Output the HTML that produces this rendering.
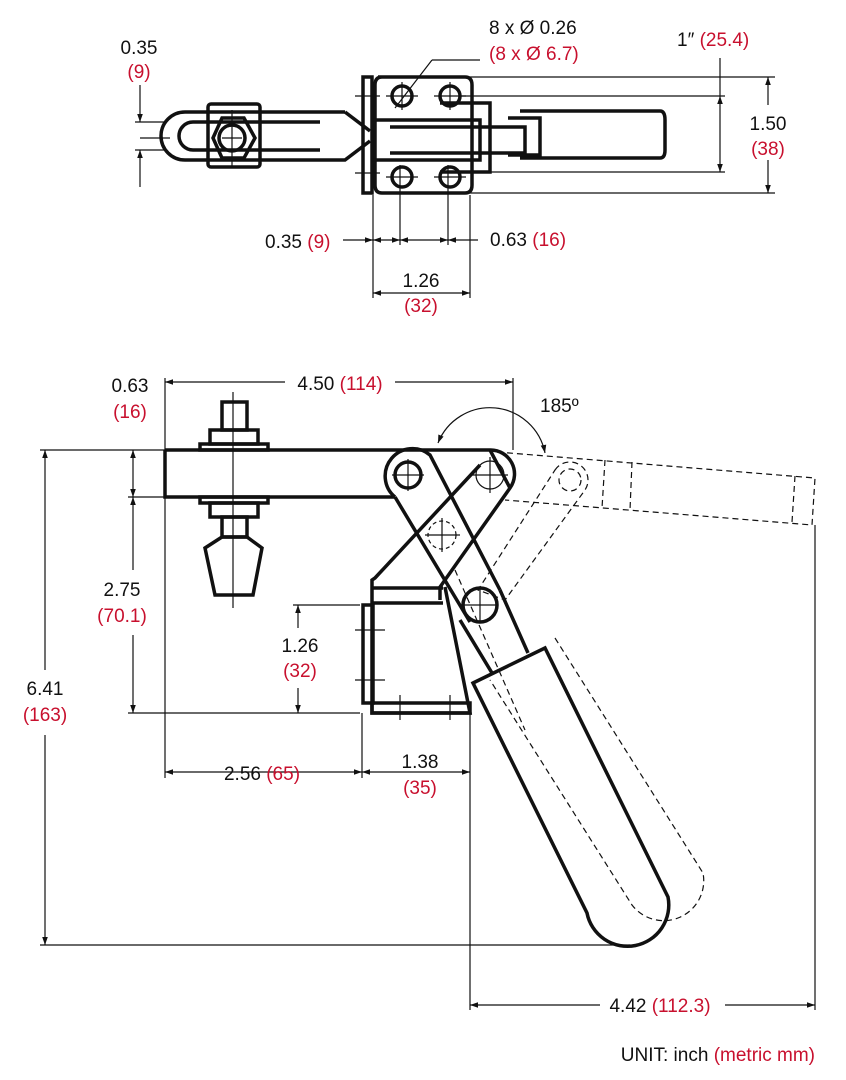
<!DOCTYPE html>
<html><head><meta charset="utf-8"><style>
html,body{margin:0;padding:0;background:#fff;}
svg{display:block;}
text{font-family:"Liberation Sans Narrow","Liberation Sans",sans-serif;font-size:19px;}
.r{fill:#c8102e;}
.k{fill:#111;}
</style></head><body>
<svg width="846" height="1080" viewBox="0 0 846 1080" xmlns="http://www.w3.org/2000/svg">
<defs>
<marker id="a" viewBox="0 0 10 10" refX="10" refY="5" markerWidth="10" markerHeight="8" orient="auto-start-reverse" markerUnits="userSpaceOnUse"><path d="M0,1.5 L10,5 L0,8.5z" fill="#111"/></marker>
</defs>
<g fill="none" stroke="#111">
<!-- ===== TOP VIEW ===== -->
<g stroke-width="3.5">
<path d="M345,112 L185,112 A24,24 0 0 0 185,160 L345,160 L370,141"/>
<path d="M345,112 L370,131"/>
<path d="M320,122 L193,122 A14,14 0 0 0 193,150 L320,150"/>
<rect x="208" y="104" width="52" height="63" rx="3"/>
<path d="M213,138 L222,118 L244,118 L255,138 L244,158 L222,158 Z"/>
<circle cx="232" cy="138" r="13"/>
<rect x="363" y="77" width="9" height="116"/>
<path d="M378,77 L465,77 Q472,77 472,85 L472,185 Q472,193 465,193 L382,193 Q375,193 375,185 L375,85 Q375,77 382,77"/>
<circle cx="402" cy="96" r="10"/><circle cx="450" cy="96" r="10"/>
<circle cx="402" cy="177" r="10"/><circle cx="450" cy="177" r="10"/>
<path d="M372,120 L480,120 L480,160 L372,160"/>
<path d="M390,127 L525,127 L525,153 L390,153"/>
<path d="M520,111 L660,111 Q665,111 665,120 L665,150 Q665,158 660,158 L520,158"/>
<path d="M508,118 L540,118 L540,155 L508,155"/>
<path d="M440,103 L490,103 L490,172 L440,172"/>
</g>
<g stroke-width="1.2">
<line x1="140" y1="138" x2="170" y2="138"/>
<line x1="232" y1="110" x2="232" y2="166"/><line x1="222" y1="138" x2="242" y2="138"/>
<line x1="135" y1="122" x2="165" y2="122"/><line x1="135" y1="150" x2="165" y2="150"/>
<line x1="140" y1="85" x2="140" y2="122" marker-end="url(#a)"/>
<line x1="140" y1="187" x2="140" y2="150" marker-end="url(#a)"/>
<line x1="465" y1="77" x2="775" y2="77"/><line x1="465" y1="193" x2="775" y2="193"/>
<line x1="768" y1="105" x2="768" y2="77" marker-end="url(#a)"/>
<line x1="768" y1="160" x2="768" y2="193" marker-end="url(#a)"/>
<line x1="460" y1="96" x2="725" y2="96"/><line x1="460" y1="172" x2="725" y2="172"/>
<line x1="720" y1="58" x2="720" y2="96"/>
<line x1="720" y1="96" x2="720" y2="172" marker-start="url(#a)" marker-end="url(#a)"/>
<line x1="386" y1="96" x2="418" y2="96"/><line x1="402" y1="82" x2="402" y2="110"/>
<line x1="434" y1="96" x2="466" y2="96"/><line x1="450" y1="82" x2="450" y2="110"/>
<line x1="386" y1="177" x2="418" y2="177"/><line x1="434" y1="177" x2="466" y2="177"/>
<line x1="355" y1="96" x2="380" y2="96"/><line x1="355" y1="173" x2="380" y2="173"/>
<line x1="432" y1="60" x2="395" y2="108"/><line x1="432" y1="60" x2="480" y2="60"/>
<line x1="373" y1="195" x2="373" y2="298"/>
<line x1="400" y1="165" x2="400" y2="245"/>
<line x1="448" y1="165" x2="448" y2="245"/>
<line x1="470" y1="195" x2="470" y2="298"/>
<line x1="343" y1="240" x2="373" y2="240" marker-end="url(#a)"/>
<line x1="373" y1="240" x2="400" y2="240" marker-start="url(#a)" marker-end="url(#a)"/>
<line x1="400" y1="240" x2="448" y2="240" marker-start="url(#a)" marker-end="url(#a)"/>
<line x1="478" y1="240" x2="448" y2="240" marker-end="url(#a)"/>
<line x1="373" y1="293" x2="470" y2="293" marker-start="url(#a)" marker-end="url(#a)"/>
</g>

<!-- ===== SIDE VIEW ===== -->
<g stroke-width="1.2" stroke-dasharray="6,4">
<path d="M497,452 L815,478 L812,525 L505,500"/>
<line x1="605" y1="460" x2="602" y2="508"/><line x1="632" y1="462" x2="630" y2="510"/><line x1="795" y1="476" x2="792" y2="522"/>
<path d="M555,470 A17,17 0 0 1 585,490 L505,600 L478,590 Z"/>
<circle cx="570" cy="480" r="11"/>
<path d="M555,638 L703,873 A40,40 0 0 1 632,905 L490,680"/>
<path d="M455,570 L525,730"/>
</g>
<g stroke-width="3.5">
<path d="M165,450 L490,450 A24,24 0 0 1 510,488 L440,587 L440,600"/>
<path d="M165,450 L165,497 L395,497"/>
<rect x="222" y="402" width="25" height="28"/>
<rect x="210" y="430" width="48" height="14"/>
<rect x="200" y="444" width="68" height="6"/>
<rect x="200" y="497" width="68" height="6"/>
<rect x="210" y="503" width="48" height="14"/>
<rect x="222" y="517" width="25" height="20"/>
<path d="M222,537 L205,548 L215,595 L253,595 L262,548 L247,537 Z"/>
<path d="M395,497 A22,22 0 0 1 430,455 L500,590 M395,497 L470,622"/>
<circle cx="408" cy="475" r="13"/>
<path d="M490,450 L510,488 M480,465 L375,578 L372,580 L372,713 L470,713 L445,587"/>
<path d="M373,588 L443,588 M373,603 L443,603"/>
<rect x="363" y="605" width="10" height="98"/>
<rect x="372" y="703" width="98" height="10"/>
<circle cx="480" cy="605" r="17"/>
<path d="M460,620 L492,673 M500,590 L528,653"/>
<path d="M473,683 L545,648 L668,897 A41,41 0 0 1 587,913 Z"/>
</g>
<g stroke-width="1.2">
<circle cx="490" cy="475" r="14"/>
<line x1="472" y1="475" x2="508" y2="475"/><line x1="490" y1="457" x2="490" y2="493"/>
<line x1="392" y1="475" x2="424" y2="475"/><line x1="408" y1="459" x2="408" y2="491"/>
<circle cx="442" cy="535" r="14" stroke-dasharray="4,3"/>
<line x1="425" y1="535" x2="460" y2="535"/><line x1="442" y1="518" x2="442" y2="552"/>
<line x1="462" y1="605" x2="498" y2="605"/><line x1="480" y1="588" x2="480" y2="622"/>
<line x1="233" y1="392" x2="233" y2="608"/>
<line x1="355" y1="630" x2="385" y2="630"/><line x1="355" y1="680" x2="385" y2="680"/>
<line x1="400" y1="695" x2="400" y2="720"/><line x1="450" y1="695" x2="450" y2="720"/>
<line x1="165" y1="378" x2="165" y2="500"/><line x1="513" y1="378" x2="513" y2="450"/>
<line x1="165" y1="382" x2="285" y2="382" marker-start="url(#a)"/>
<line x1="395" y1="382" x2="513" y2="382" marker-end="url(#a)"/>
<path d="M438,443 A56,56 0 0 1 545,453" marker-start="url(#a)" marker-end="url(#a)"/>
<line x1="128" y1="450" x2="165" y2="450"/><line x1="128" y1="497" x2="165" y2="497"/>
<line x1="40" y1="450" x2="128" y2="450"/>
<line x1="133" y1="450" x2="133" y2="497" marker-start="url(#a)" marker-end="url(#a)"/>
<line x1="133" y1="497" x2="133" y2="570" marker-start="url(#a)"/>
<line x1="133" y1="635" x2="133" y2="713" marker-end="url(#a)"/>
<line x1="128" y1="713" x2="360" y2="713"/>
<line x1="45" y1="450" x2="45" y2="670" marker-start="url(#a)"/>
<line x1="45" y1="735" x2="45" y2="945" marker-end="url(#a)"/>
<line x1="40" y1="945" x2="630" y2="945"/>
<line x1="293" y1="605" x2="360" y2="605"/>
<line x1="298" y1="605" x2="298" y2="628" marker-start="url(#a)"/>
<line x1="298" y1="688" x2="298" y2="713" marker-end="url(#a)"/>
<line x1="165" y1="500" x2="165" y2="778"/>
<line x1="362" y1="713" x2="362" y2="778"/>
<line x1="470" y1="713" x2="470" y2="1010"/>
<line x1="815" y1="525" x2="815" y2="1010"/>
<line x1="165" y1="772" x2="362" y2="772" marker-start="url(#a)" marker-end="url(#a)"/>
<line x1="362" y1="772" x2="470" y2="772" marker-start="url(#a)" marker-end="url(#a)"/>
<line x1="470" y1="1005" x2="600" y2="1005" marker-start="url(#a)"/>
<line x1="725" y1="1005" x2="815" y2="1005" marker-end="url(#a)"/>
</g>
</g>

<g class="k">
<text x="139" y="54" text-anchor="middle">0.35</text>
<text x="139" y="78" text-anchor="middle" class="r">(9)</text>
<text x="489" y="34">8 x Ø 0.26</text>
<text x="489" y="60" class="r">(8 x Ø 6.7)</text>
<text x="677" y="46">1″ <tspan class="r">(25.4)</tspan></text>
<text x="768" y="130" text-anchor="middle">1.50</text>
<text x="768" y="155" text-anchor="middle" class="r">(38)</text>
<text x="265" y="248">0.35 <tspan class="r">(9)</tspan></text>
<text x="490" y="246">0.63 <tspan class="r">(16)</tspan></text>
<text x="421" y="287" text-anchor="middle">1.26</text>
<text x="421" y="312" text-anchor="middle" class="r">(32)</text>
<text x="130" y="392" text-anchor="middle">0.63</text>
<text x="130" y="418" text-anchor="middle" class="r">(16)</text>
<text x="340" y="390" text-anchor="middle">4.50 <tspan class="r">(114)</tspan></text>
<text x="540" y="412">185º</text>
<text x="122" y="596" text-anchor="middle">2.75</text>
<text x="122" y="622" text-anchor="middle" class="r">(70.1)</text>
<text x="300" y="652" text-anchor="middle">1.26</text>
<text x="300" y="677" text-anchor="middle" class="r">(32)</text>
<text x="45" y="695" text-anchor="middle">6.41</text>
<text x="45" y="721" text-anchor="middle" class="r">(163)</text>
<text x="262" y="780" text-anchor="middle">2.56 <tspan class="r">(65)</tspan></text>
<text x="420" y="768" text-anchor="middle">1.38</text>
<text x="420" y="794" text-anchor="middle" class="r">(35)</text>
<text x="660" y="1012" text-anchor="middle">4.42 <tspan class="r">(112.3)</tspan></text>
<text x="815" y="1061" text-anchor="end">UNIT: inch <tspan class="r">(metric mm)</tspan></text>
</g>
</svg>
</body></html>
